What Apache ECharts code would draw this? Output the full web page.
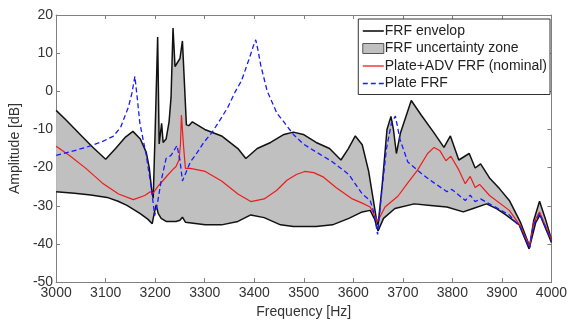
<!DOCTYPE html>
<html>
<head>
<meta charset="utf-8">
<script src="https://cdn.jsdelivr.net/npm/echarts@6/dist/echarts.min.js"></script>
<style>html,body{margin:0;padding:0;background:#fff}#c{width:570px;height:324px}</style>
</head>
<body>
<div id="c"></div>
<script>
// Upper envelope
const upperF = [3000,3020,3050,3075,3100,3120,3140,3155,3170,3182,3188,3193,3196,3200,3205,3208,3213,3216,3222,3228,3232,3236,3240,3250,3255,3263,3268,3275,3300,3334,3367,3383,3406,3433,3460,3479,3499,3525,3552,3575,3590,3604,3618,3631,3646,3650,3658,3668,3676,3681,3687,3695,3717,3737,3763,3783,3796,3813,3834,3846,3857,3875,3895,3915,3938,3956,3964,3976,3988,4000];
const upperV = [-5,-7.5,-11.5,-14.8,-17.8,-15,-12,-10.5,-12.5,-16,-20,-26,-28,-10,14.2,-13.8,-8.4,-13.4,-12.5,-8,-1.6,16.6,6.5,8.6,13.2,-8.8,-9,-8,-10,-11.7,-15,-17.6,-15,-13.4,-11.3,-10.7,-11.3,-13.4,-15,-18,-15,-11.7,-14,-21,-33,-35,-25,-10,-6.6,-10,-16.3,-11,-2.4,-6.2,-10.9,-14.7,-11.7,-18,-16.3,-20.1,-19,-22.7,-25.5,-28.6,-34.5,-40.6,-34,-28.8,-33.5,-38.8];
// Lower envelope
const lowerF = [3000,3037,3070,3103,3125,3143,3169,3185,3194,3198,3202,3206,3212,3222,3242,3250,3255,3261,3301,3334,3367,3393,3420,3453,3479,3525,3558,3591,3618,3634,3643,3650,3661,3684,3723,3756,3789,3822,3842,3869,3890,3908,3935,3955,3968,3977,4000];
const lowerV = [-26.3,-26.7,-27.2,-27.8,-28.8,-29.9,-32,-33.5,-34.7,-32,-29.8,-32,-33.3,-34.1,-34.1,-33.8,-33,-34.3,-35,-35,-34.1,-32.4,-33.1,-35,-35.4,-35.4,-35,-33.3,-31.6,-31.2,-33.5,-36.6,-33.3,-30.7,-29.5,-29.9,-30.3,-31.6,-30.7,-29.5,-30.8,-32.4,-35,-41.3,-34.5,-32.4,-39.6];
// Plate+ADV FRF (nominal)
const nomF = [3000,3027,3060,3093,3126,3156,3179,3190,3196,3205,3215,3225,3235,3242,3248,3251,3253,3257,3261,3271,3301,3334,3367,3393,3420,3445,3466,3485,3502,3520,3540,3565,3598,3618,3634,3649,3664,3690,3710,3730,3750,3763,3775,3787,3797,3813,3826,3836,3846,3855,3875,3915,3938,3956,3964,3976,4000];
const nomV = [-14.4,-16.8,-20.2,-24,-26.9,-28.4,-27.3,-26.3,-26.7,-25,-23.5,-22,-20.6,-19.7,-18,-14,-6.2,-14,-20.2,-20.2,-21,-23.5,-26.9,-28.9,-28.2,-26,-23.3,-21.8,-21,-21.3,-22.5,-25.2,-28.2,-29.3,-30.3,-34.1,-30.3,-27.5,-24,-20.6,-16.3,-14.7,-15.6,-18.2,-17,-20.6,-24.2,-22.3,-25.2,-24.4,-27.3,-31.2,-35.4,-40.6,-34.5,-31.6,-38.8];
// Plate FRF
const plateF = [3000,3030,3060,3093,3115,3130,3146,3153,3159,3164,3169,3182,3192,3199,3205,3212,3222,3232,3244,3250,3255,3263,3271,3281,3298,3314,3331,3347,3362,3374,3390,3398,3403,3408,3413,3426,3446,3459,3479,3499,3525,3558,3591,3618,3634,3642,3649,3657,3667,3677,3685,3694,3710,3737,3763,3789,3799,3826,3836,3846,3857,3875,3915,3938,3956,3964,3976,4000];
const plateV = [-16.8,-15.8,-14.7,-13.2,-11.8,-9.5,-4.1,-0.5,3.9,-2,-8.3,-16.8,-25.2,-32.6,-29,-23.5,-17.6,-16.8,-14.2,-18,-23.5,-21,-18.5,-16.8,-13.4,-10.9,-7.5,-4.1,0,2.7,8.6,11.8,13.5,10.5,6.9,0.1,-5.8,-7.9,-11.3,-13.8,-15.9,-18.5,-21.8,-26.9,-28.6,-32,-37.5,-26.9,-15,-8.3,-6.5,-12.5,-18.5,-21.5,-24,-26.3,-25.7,-28.6,-27.2,-28.9,-28.2,-29.5,-32.4,-35.8,-41.1,-35,-32,-39.2];

const zip = (f, v) => f.map((x, i) => [x, v[i]]);
const FONT = 'Liberation Sans, Arial, sans-serif';
const axisCol = '#808080';
const BLACK = '#111', RED = '#ee1c1c', BLUE = '#1a1aff', GRAY = '#c0c0c0';

const chart = echarts.init(document.getElementById('c'), null, {renderer: 'canvas'});
const plain = v => String(v);
chart.setOption({
  animation: false,
  backgroundColor: '#fff',
  grid: {left: 48, right: 17, top: 15, bottom: 33, containLabel: false},
  legend: {
    orient: 'vertical', right: 20, top: 19,
    backgroundColor: '#fff',
    borderColor: '#333', borderWidth: 1,
    padding: [5, 3, 4, 4],
    itemWidth: 21, itemHeight: 12, itemGap: 3.5,
    textStyle: {fontFamily: FONT, fontSize: 14, color: '#222', padding: [0, 0, 0, -4]},
    data: [
      {name: 'FRF envelop', icon: 'path://M0 0H21V1.6H0Z', itemStyle: {color: BLACK, borderWidth: 0}},
      {name: 'FRF uncertainty zone', icon: 'path://M0 0H21V10H0Z', itemStyle: {color: GRAY, borderColor: '#555', borderWidth: 1}},
      {name: 'Plate+ADV FRF (nominal)', icon: 'path://M0 0H21V1.3H0Z', itemStyle: {color: RED, borderWidth: 0}},
      {name: 'Plate FRF', icon: 'path://M0 0H5V1.5H0Z M8 0H13V1.5H8Z M16 0H21V1.5H16Z', itemStyle: {color: BLUE, borderWidth: 0}}
    ]
  },
  xAxis: [{
    type: 'value', min: 3000, max: 4000, interval: 100,
    name: 'Frequency [Hz]', nameLocation: 'middle', nameGap: 19,
    nameTextStyle: {fontFamily: FONT, fontSize: 14, color: '#333'},
    axisLine: {show: true, onZero: false, lineStyle: {color: axisCol, width: 1}},
    axisTick: {show: true, inside: true, length: 4, lineStyle: {color: axisCol}},
    axisLabel: {fontFamily: FONT, fontSize: 14, color: '#333', margin: 4, formatter: plain},
    splitLine: {show: false}
  }, {
    type: 'value', position: 'top', min: 3000, max: 4000, interval: 100,
    axisLine: {show: true, onZero: false, lineStyle: {color: axisCol, width: 1}},
    axisTick: {show: true, inside: true, length: 4, lineStyle: {color: axisCol}},
    axisLabel: {show: false}, splitLine: {show: false}
  }],
  yAxis: [{
    type: 'value', min: -50, max: 20, interval: 10,
    name: 'Amplitude [dB]', nameLocation: 'middle', nameGap: 29,
    nameTextStyle: {fontFamily: FONT, fontSize: 14, color: '#333'},
    axisLine: {show: true, onZero: false, lineStyle: {color: axisCol, width: 1}},
    axisTick: {show: true, inside: true, length: 4, lineStyle: {color: axisCol}},
    axisLabel: {fontFamily: FONT, fontSize: 14, color: '#333', margin: 3, formatter: plain},
    splitLine: {show: false}
  }, {
    type: 'value', position: 'right', min: -50, max: 20, interval: 10,
    axisLine: {show: true, onZero: false, lineStyle: {color: axisCol, width: 1}},
    axisTick: {show: true, inside: true, length: 4, lineStyle: {color: axisCol}},
    axisLabel: {show: false}, splitLine: {show: false}
  }],
  series: [
    {
      type: 'custom', name: 'FRF uncertainty zone', silent: true, z: 1,
      itemStyle: {color: GRAY},
      data: [[3000, 0]],
      renderItem: function (params, api) {
        const pts = [];
        for (let i = 0; i < upperF.length; i++) pts.push(api.coord([upperF[i], upperV[i]]));
        for (let i = lowerF.length - 1; i >= 0; i--) pts.push(api.coord([lowerF[i], lowerV[i]]));
        return {type: 'polygon', shape: {points: pts}, style: {fill: GRAY, stroke: null}};
      }
    },
    {
      type: 'line', name: 'FRF envelop', data: zip(upperF, upperV), symbol: 'none', z: 3,
      lineStyle: {color: BLACK, width: 1.5}, itemStyle: {color: BLACK}
    },
    {
      type: 'line', name: 'FRF envelop', data: zip(lowerF, lowerV), symbol: 'none', z: 3,
      lineStyle: {color: BLACK, width: 1.5}, itemStyle: {color: BLACK}
    },
    {
      type: 'line', name: 'Plate+ADV FRF (nominal)', data: zip(nomF, nomV), symbol: 'none', z: 4,
      lineStyle: {color: RED, width: 1.2}, itemStyle: {color: RED}
    },
    {
      type: 'line', name: 'Plate FRF', data: zip(plateF, plateV), symbol: 'none', z: 5,
      lineStyle: {color: BLUE, width: 1.3, type: [5, 3]}, itemStyle: {color: BLUE}
    }
  ]
});
</script>
</body>
</html>
